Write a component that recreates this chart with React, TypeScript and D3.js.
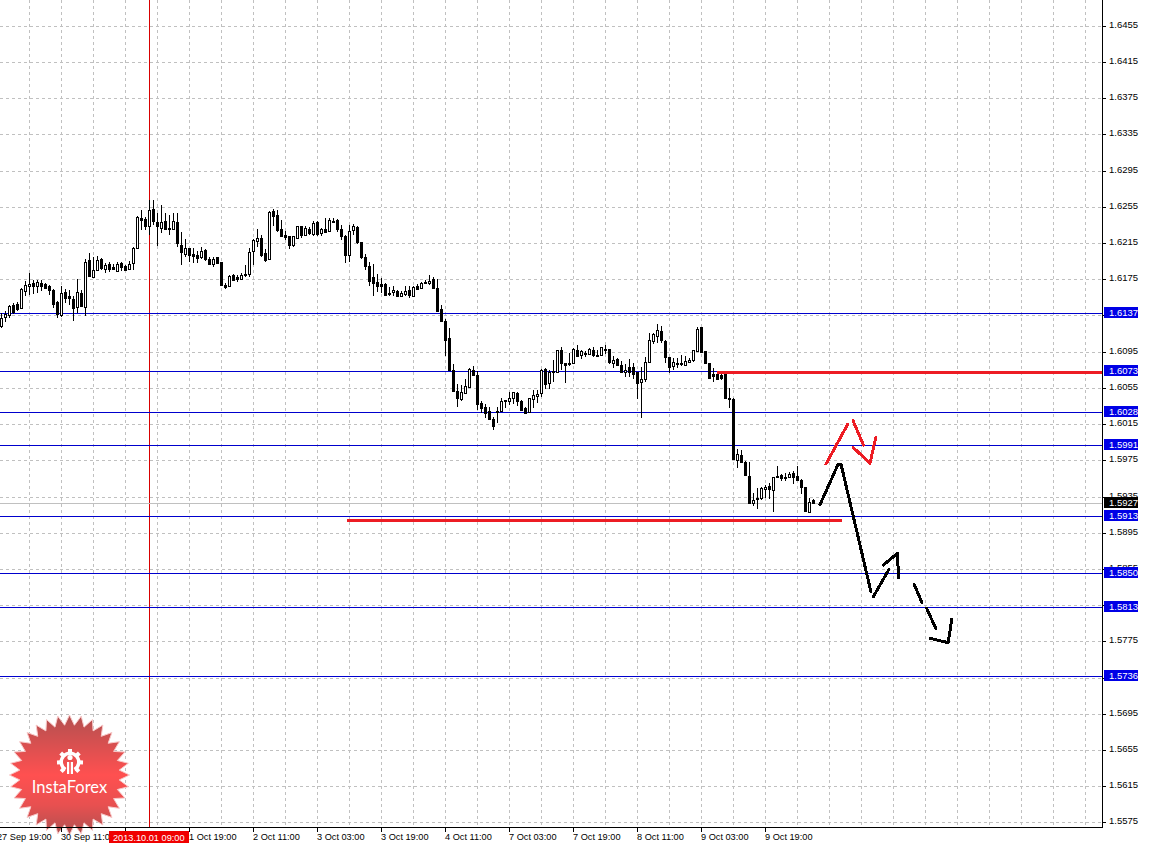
import React from "react";
import * as d3 from "d3";

const width = 1153;
const height = 845;
const plotRight = 1102;
const plotBottom = 827;

// OHLC, in ten-thousandths of a price unit, one value per hourly bar
const highs = [16138,16140,16146,16149,16150,16165,16173,16182,16174,16174,16174,16171,16169,16164,16151,16168,16164,16163,16156,16175,16163,16197,16204,16200,16201,16198,16193,16194,16192,16194,16194,16191,16195,16211,16245,16252,16244,16263,16262,16248,
16257,16248,16246,16248,16248,16227,16219,16210,16210,16206,16211,16208,16200,16200,16199,16194,16171,16180,16181,16180,16182,16191,16210,16219,16230,16224,16208,16250,16253,16252,16240,16228,16223,16223,16234,16234,16234,16233,16239,16239,
16232,16243,16243,16243,16241,16235,16224,16235,16236,16234,16216,16203,16194,16192,16181,16176,16171,16166,16167,16163,16162,16167,16167,16168,16170,16172,16174,16180,16177,16175,16147,16131,16121,16081,16059,16058,16065,16077,16079,16074,
16041,16037,16034,16023,16034,16044,16042,16050,16050,16050,16042,16034,16044,16053,16053,16076,16077,16075,16086,16097,16100,16083,16093,16099,16102,16097,16096,16099,16100,16097,16100,16102,16098,16090,16088,16085,16081,16087,16083,16073,
16078,16089,16116,16116,16125,16123,16108,16089,16088,16088,16091,16090,16088,16097,16122,16122,16096,16083,16077,16071,16072,16071,16055,16044,15988,15986,15974,15973,15939,15944,15946,15948,15950,15957,15969,15960,15961,15962,15963,15969,
15954,15946,15933,15932];
const bodyTops = [16132,16137,16145,16146,16148,16164,16169,16170,16171,16172,16171,16170,16167,16163,16150,16160,16161,16156,16153,16161,16160,16194,16196,16185,16196,16197,16191,16192,16188,16192,16193,16190,16192,16210,16244,16243,16241,16252,16253,16238,
16238,16239,16232,16239,16238,16213,16209,16210,16203,16202,16206,16207,16197,16197,16199,16194,16169,16179,16180,16177,16180,16181,16205,16218,16221,16220,16204,16249,16250,16246,16231,16224,16223,16223,16234,16234,16232,16231,16237,16238,
16230,16231,16240,16239,16240,16231,16223,16228,16234,16233,16216,16199,16190,16178,16172,16170,16170,16160,16163,16162,16160,16162,16163,16166,16168,16171,16172,16173,16175,16165,16142,16129,16110,16075,16051,16050,16057,16076,16075,16069,
16038,16034,16029,16021,16029,16041,16042,16044,16050,16049,16040,16033,16044,16047,16048,16075,16076,16072,16074,16097,16097,16082,16083,16098,16097,16096,16094,16098,16097,16091,16100,16098,16098,16086,16087,16080,16075,16078,16078,16072,
16065,16084,16108,16114,16119,16118,16107,16089,16084,16083,16083,16085,16086,16097,16120,16122,16096,16082,16070,16070,16069,16070,16044,16043,15982,15981,15973,15958,15931,15933,15944,15946,15947,15957,15958,15959,15957,15960,15961,15958,
15953,15946,15929,15931];
const bodyBottoms = [16123,16133,16135,16139,16142,16143,16162,16167,16168,16168,16167,16165,16163,16148,16137,16136,16154,16154,16143,16144,16145,16144,16179,16178,16185,16187,16186,16186,16186,16184,16188,16185,16186,16193,16210,16240,16234,16234,16239,16234,
16232,16231,16230,16231,16215,16205,16203,16202,16201,16198,16200,16197,16192,16192,16193,16169,16166,16167,16174,16175,16175,16180,16181,16206,16217,16202,16196,16197,16245,16229,16223,16222,16213,16213,16221,16224,16224,16226,16225,16225,
16226,16227,16228,16238,16231,16223,16202,16202,16229,16216,16199,16190,16173,16171,16168,16168,16158,16159,16161,16156,16157,16159,16158,16157,16164,16165,16171,16171,16165,16140,16129,16108,16075,16051,16044,16043,16049,16056,16069,16037,
16033,16027,16021,16013,16028,16029,16040,16041,16044,16040,16031,16027,16028,16043,16046,16049,16059,16060,16072,16073,16082,16080,16081,16083,16090,16091,16094,16092,16091,16090,16091,16097,16084,16083,16080,16073,16072,16072,16070,16060,
16062,16065,16084,16107,16112,16108,16089,16078,16079,16081,16081,16080,16084,16086,16096,16095,16082,16066,16068,16065,16066,16044,16043,15976,15975,15973,15959,15928,15928,15932,15933,15943,15943,15942,15957,15955,15955,15956,15956,15953,
15945,15919,15918,15928];
const lows = [16121,16128,16132,16137,16140,16143,16156,16158,16159,16160,16162,16164,16158,16143,16132,16133,16149,16147,16129,16138,16144,16134,16179,16178,16184,16185,16182,16183,16185,16183,16184,16184,16185,16185,16209,16229,16229,16224,16235,16212,
16226,16230,16224,16230,16211,16191,16200,16194,16193,16193,16197,16195,16192,16189,16192,16169,16164,16167,16173,16172,16175,16177,16177,16191,16211,16200,16194,16197,16234,16227,16222,16218,16208,16211,16220,16221,16223,16224,16223,16223,
16223,16226,16228,16237,16227,16218,16193,16194,16224,16214,16197,16185,16167,16157,16161,16160,16157,16157,16157,16156,16156,16157,16154,16156,16164,16164,16170,16169,16165,16139,16129,16090,16075,16050,16034,16040,16048,16055,16068,16031,
16027,16022,16020,16009,16016,16028,16033,16036,16037,16035,16029,16027,16027,16033,16038,16045,16054,16054,16062,16072,16075,16060,16079,16082,16089,16087,16089,16092,16089,16089,16090,16092,16081,16077,16079,16072,16067,16067,16065,16043,
16022,16062,16083,16104,16105,16105,16082,16071,16075,16077,16079,16080,16083,16084,16095,16094,16081,16065,16062,16064,16064,16043,16033,15976,15966,15972,15958,15927,15925,15921,15931,15933,15932,15918,15955,15952,15952,15955,15949,15952,
15938,15919,15918,15927];
const bearish = new Set([3,4,8,10,11,12,13,14,16,17,18,20,22,25,27,28,30,31,35,36,38,39,41,42,44,45,47,48,49,51,52,54,55,56,58,59,61,65,66,68,69,70,71,72,75,77,79,81,83,84,85,86,89,90,91,92,93,94,95,96,97,99,102,104,106,108,109,110,111,112,113,114,118,119,120,121,122,123,124,126,129,130,131,136,138,140,141,142,144,146,148,149,151,152,154,155,157,158,159,165,166,167,169,170,175,176,177,178,179,180,181,182,183,185,186,187,189,192,194,195,196,198,199,200,201,203]);

const yTickValues = [1.6455,1.6415,1.6375,1.6335,1.6295,1.6255,1.6215,1.6175,1.6135,1.6095,1.6055,1.6015,1.5975,1.5935,1.5895,1.5855,1.5815,1.5775,1.5735,1.5695,1.5655,1.5615,1.5575];
const levelPrices = [1.6137,1.6073,1.6028,1.5991,1.5913,1.5850,1.5813,1.5736];
const bidPrice = 1.5927;
const xTickBars = [-1,15,31,47,63,79,95,111,127,143,159,175,191];
const xTickLabels = ["27 Sep 19:00","30 Sep 11:00","1 Oct 03:00","1 Oct 19:00","2 Oct 11:00","3 Oct 03:00","3 Oct 19:00","4 Oct 11:00","7 Oct 03:00","7 Oct 19:00","8 Oct 11:00","9 Oct 03:00","9 Oct 19:00"];
const gridBars = d3.range(7, 280, 8);
const crossBar = 37;
const crossLabel = "2013.10.01 09:00";

// hand-drawn annotations: [bar index, price * 1e4]
const redStrokes: number[][][] = [
  [[206.25,15971.4],[211.7,16015.6]],
  [[213,16019.3],[215.6,15992.4]],
  [[213.1,15989.5],[217.25,15972.2],[218.7,16001]],
];
const blackStrokes: number[][][] = [
  [[204.75,15926.5],[209.3,15971.4],[210,15971.4],[217.5,15830.1]],
  [[218.1,15824.9],[222,15855.1]],
  [[220.6,15859.9],[224.1,15872.8],[224.4,15845.9]],
  [[228.25,15838.9],[230.2,15818.7]],
  [[231.4,15812.1],[233.7,15790]],
  [[232.25,15778.9],[236.8,15774.1],[237.7,15800.2]],
];
const redLevels: { from: number; to: number; price: number }[] = [
  { from: 179, to: 275.25, price: 16072.7 },
  { from: 86.5, to: 210.25, price: 15909 },
];

const x = d3.scaleLinear().domain([0, 1]).range([1, 5]);
const y = d3.scaleLinear().domain([1.6255, 1.5615]).range([207.3, 786.7]);
const yp = (p: number) => Math.floor(y(p / 1e4));
const levelRow = (v: number) => Math.floor(y(v) - 0.35);
const font = "'Liberation Sans', Arial, sans-serif";
const BLUE = "#0000cd";
const RED = "#ed1c24";
const GRID = "#c0c0c0";

const strokeLine = d3.line<number[]>().x((d) => x(d[0])).y((d) => y(d[1] / 1e4));

const starCenter = { x: 69.5, y: 775 };
const starPoints = 32;
const starPath = (() => {
  const pts = d3.range(starPoints * 2).map((k) => {
    const r = k % 2 === 0 ? 60 : 50;
    const a = (k * Math.PI) / starPoints;
    return [starCenter.x + r * Math.sin(a), starCenter.y - r * Math.cos(a)] as [number, number];
  });
  return d3.line()(pts) + "Z";
})();

function Gear({ cx, cy }: { cx: number; cy: number }) {
  return (
    <g fill="#fff">
      <path d={d3.arc()({ innerRadius: 7, outerRadius: 10.5, startAngle: -2.6, endAngle: 2.6 }) || ""} transform={`translate(${cx},${cy})`} />
      {d3.range(-2.4, 2.5, 0.8).map((a) => (
        <rect key={a} x={-2} y={-13} width={4} height={4} transform={`translate(${cx},${cy}) rotate(${(a * 180) / Math.PI})`} />
      ))}
      <circle cx={cx} cy={cy - 4.5} r={2.6} />
      <rect x={cx - 3} y={cy} width={2.2} height={12} />
      <rect x={cx + 0.8} y={cy} width={2.2} height={12} />
    </g>
  );
}

export default function App() {
  return (
    <svg width={width} height={height} style={{ position: "absolute", left: 0, top: 0, background: "#fff" }} fontFamily={font}>
      <defs>
        <linearGradient id="starFill" x1="0" y1="0" x2="0" y2="1">
          <stop offset="0" stopColor="#b35050" />
          <stop offset="0.5" stopColor="#ff5050" />
          <stop offset="0.75" stopColor="#e85050" />
          <stop offset="1" stopColor="#b05050" />
        </linearGradient>
        <clipPath id="plot"><rect x={0} y={0} width={plotRight} height={plotBottom} /></clipPath>
      </defs>

      <g stroke={GRID} strokeDasharray="3 3" shapeRendering="crispEdges">
        {gridBars.map((b) => x(b) < plotRight && (
          <line key={b} x1={x(b) + 0.5} x2={x(b) + 0.5} y1={0} y2={plotBottom} />
        ))}
        {yTickValues.map((v) => (
          <line key={v} x1={0} x2={plotRight} y1={Math.floor(y(v)) + 0.5} y2={Math.floor(y(v)) + 0.5} />
        ))}
      </g>

      <path d={starPath} fill="url(#starFill)" stroke="#f8c8c8" strokeWidth={1} />
      <Gear cx={70} cy={762} />
      <text x={69.5} y={793} textAnchor="middle" fill="#fff" fontFamily="Lato, 'Open Sans', sans-serif" fontSize={16.5}>InstaForex</text>

      <g shapeRendering="crispEdges">
        <line x1={x(crossBar) + 0.5} x2={x(crossBar) + 0.5} y1={0} y2={plotBottom} stroke="#d80000" />
        <line x1={0} x2={plotRight} y1={levelRow(bidPrice) + 0.5} y2={levelRow(bidPrice) + 0.5} stroke={GRID} />
        {levelPrices.map((v) => (
          <line key={v} x1={0} x2={plotRight} y1={levelRow(v) + 0.5} y2={levelRow(v) + 0.5} stroke={BLUE} />
        ))}
      </g>

      <g shapeRendering="crispEdges">
        {highs.map((h, i) => {
          const cx = x(i);
          const top = yp(bodyTops[i]);
          const bot = Math.max(yp(bodyBottoms[i]), top + 1);
          return (
            <g key={i}>
              <rect x={cx} y={yp(h)} width={1} height={Math.max(yp(lows[i]) - yp(h), 1)} fill="#000" />
              <rect x={cx - 1} y={top} width={3} height={bot - top + 1} fill="#000" />
              {!bearish.has(i) && bot - top > 1 && (
                <rect x={cx} y={top + 1} width={1} height={bot - top - 1} fill="#fff" />
              )}
            </g>
          );
        })}
      </g>

      <g clipPath="url(#plot)" shapeRendering="crispEdges">
        {redLevels.map((l) => (
          <rect key={l.price} x={x(l.from)} width={x(l.to) - x(l.from)} y={y(l.price / 1e4) - 1.5} height={3} fill={RED} />
        ))}
      </g>
      <g fill="none" strokeWidth={3} strokeLinejoin="round" strokeLinecap="round" shapeRendering="crispEdges">
        {redStrokes.map((s, k) => <path key={k} d={strokeLine(s) || ""} stroke={RED} />)}
        {blackStrokes.map((s, k) => <path key={k} d={strokeLine(s) || ""} stroke="#000" />)}
      </g>

      <g shapeRendering="crispEdges" stroke="#000">
        <line x1={0} x2={plotRight + 1} y1={plotBottom + 0.5} y2={plotBottom + 0.5} />
        <line x1={plotRight + 0.5} x2={plotRight + 0.5} y1={0} y2={plotBottom + 1} />
        {yTickValues.map((v) => (
          <line key={v} x1={plotRight} x2={plotRight + 4} y1={Math.floor(y(v)) + 0.5} y2={Math.floor(y(v)) + 0.5} />
        ))}
        {xTickBars.map((b) => (
          <line key={b} x1={x(b) + 0.5} x2={x(b) + 0.5} y1={plotBottom} y2={plotBottom + 5} />
        ))}
      </g>

      <g fill="#000">
        {yTickValues.map((v) => (
          <text key={v} x={1109} y={Math.floor(y(v)) + 1.8} fontSize={9.5}>{v.toFixed(4)}</text>
        ))}
        {xTickBars.map((b, k) => (
          <text key={b} x={x(b)} y={840} fontSize={9.2}>{xTickLabels[k]}</text>
        ))}
      </g>

      {levelPrices.map((v) => {
        const c = levelRow(v);
        return (
          <g key={v}>
            <rect x={1104} y={c - 6} width={34} height={11} fill="#0000e6" shapeRendering="crispEdges" />
            <text x={1109} y={c + 3} fill="#fff" fontSize={9.5}>{v.toFixed(4)}</text>
          </g>
        );
      })}
      <rect x={1104} y={levelRow(bidPrice) - 6} width={34} height={11} fill="#000" shapeRendering="crispEdges" />
      <text x={1109} y={levelRow(bidPrice) + 3} fill="#fff" fontSize={9.5}>{bidPrice.toFixed(4)}</text>

      <rect x={109} y={831} width={80} height={12} fill="#f00000" shapeRendering="crispEdges" />
      <text x={113} y={841} fill="#fff" fontSize={9.2}>{crossLabel}</text>
    </svg>
  );
}
